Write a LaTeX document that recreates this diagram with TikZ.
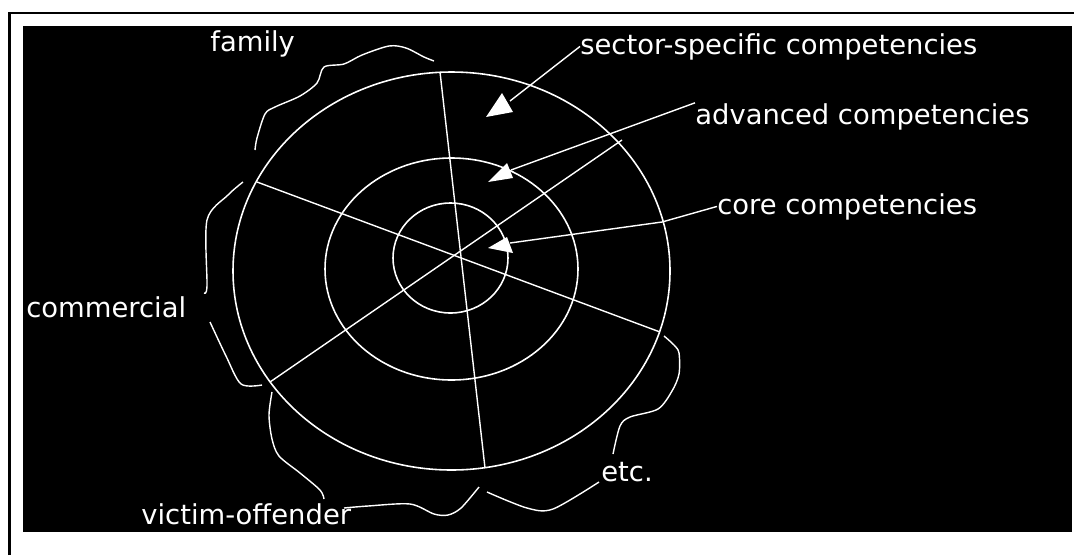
\documentclass[tikz,border=0pt]{standalone}
\usepackage{fontspec}
\setmainfont{DejaVu Sans}
\usepackage{tikz}
\usetikzlibrary{positioning}

\begin{document}
\begin{tikzpicture}[
  x=0.02cm,
  y=-0.02cm,
  every node/.style={font=\fontsize{15.6}{18}\selectfont, text=white, inner sep=0pt},
  lbl/.style={anchor=base west},
  ring/.style={draw=white, line width=0.9pt},
  spoke/.style={draw=white, line width=0.8pt},
  lead/.style={draw=white, line width=0.8pt},
  brace/.style={draw=white, line width=0.8pt, line join=round},
  tip/.style={fill=white}
]
\useasboundingbox[fill=white] (0,0) rectangle (1074,555);
\fill[black] (23,26) rectangle (1072,532);
\draw[line width=1.2pt] (9.5,555) -- (9.5,13) -- (1074,13);

\draw[ring] (450.5,258) ellipse [x radius=57.5, y radius=55];
\draw[ring] (451.5,269) ellipse [x radius=126.5, y radius=111];
\draw[ring] (451.5,271) ellipse [x radius=218.5, y radius=199];

\coordinate (s1a) at (440,72);
\coordinate (s1b) at (485,468);
\coordinate (s2a) at (257,182);
\coordinate (s2b) at (660,332);
\coordinate (s3a) at (270,382);
\coordinate (s3b) at (622,140);
\draw[spoke] (s1a) -- (s1b);
\draw[spoke] (s2a) -- (s2b);
\draw[spoke] (s3a) -- (s3b);

\node[lbl] (sector) at (580,54) {sector-specific competencies};
\node[lbl] (advanced) at (695,124) {advanced competencies};
\node[lbl] (core) at (717,214) {core competencies};
\node[lbl] (family) at (210,51) {family};
\node[lbl] (commercial) at (26,317) {commercial};
\node[lbl] (victim) at (141,524) {victim-offender};
\node[lbl] (etc) at (601,481) {etc.};

\fill[tip] (502,93) -- (486,117) -- (513,112) -- cycle;
\fill[tip] (507,163) -- (488,182) -- (513,178) -- cycle;
\fill[tip] (507,237) -- (488,248) -- (513,253) -- cycle;
\coordinate (tipS) at (510,101);
\coordinate (tipA) at (511,170);
\coordinate (tipC) at (510,243);
\draw[lead] (tipS) -- (sector.west);
\draw[lead] (tipA) -- (advanced.north west);
\draw[lead] (tipC) -- (662,222) -- (core.west);

\draw[brace] plot[smooth] coordinates {(255,150) (257,138) (265,114) (275,107) (300,96) (317,83) (324,67) (344,64) (362,55) (389,46) (406,48) (424,57) (434,61)};
\draw[brace] plot[smooth] coordinates {(243,182) (228,195) (207,220) (207,286) (204,293)};
\draw[brace] plot[smooth] coordinates {(210,322) (226,356) (241,384) (262,385)};
\draw[brace] plot[smooth] coordinates {(272,392) (269,415) (272,439) (279,456) (300,473) (320,490) (324,499)};
\draw[brace] plot[smooth] coordinates {(344,508) (368,506) (410,504) (434,514) (448,515) (461,508) (479,487)};
\draw[brace] plot[smooth] coordinates {(487,492) (527,508) (553,509) (599,482)};
\draw[brace] plot[smooth] coordinates {(613,454) (620,426) (630,417) (658,409) (672,391) (679,374) (679,353) (674,345) (664,336)};
\end{tikzpicture}
\end{document}
